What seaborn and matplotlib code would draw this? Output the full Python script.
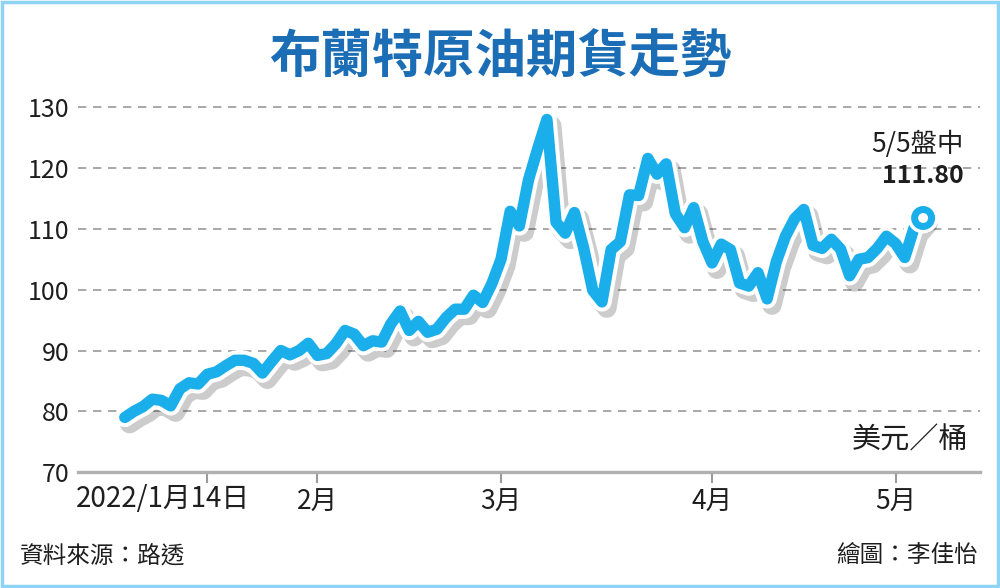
import numpy as np
import pandas as pd
import matplotlib
matplotlib.use("Agg")
import matplotlib.pyplot as plt
import matplotlib.patheffects as pe
from matplotlib.patches import Rectangle
import seaborn as sns

# trading days shown on the chart (Good Friday closed)
trade_days = pd.bdate_range("2022-01-03", "2022-05-05").drop(pd.Timestamp("2022-04-15"))

# Brent futures, USD / barrel
jan = [79.0, 80.0, 80.8, 82.0, 81.8, 80.9, 83.7, 84.7, 84.5, 86.1, 86.5,
       87.5, 88.4, 88.4, 87.9, 86.3, 88.2, 90.0, 89.3, 90.0, 91.2]
feb = [89.2, 89.5, 91.1, 93.3, 92.7, 90.8, 91.6, 91.4, 94.4, 96.5,
       93.3, 94.8, 93.0, 93.5, 95.4, 96.8, 96.8, 99.1, 97.9, 101.0]
mar = [105.0, 112.9, 110.5, 118.1, 123.2, 128.0, 111.1, 109.3, 112.7, 106.9,
       99.9, 98.0, 106.6, 107.9, 115.6, 115.5, 121.6, 119.0, 120.7, 112.5,
       110.2, 113.5, 107.9]
apr = [104.4, 107.5, 106.6, 101.1, 100.6, 102.8, 98.5, 104.6, 108.8, 111.7,
       113.2, 107.3, 106.8, 108.3, 106.7, 102.3, 105.0, 105.3, 106.8, 108.8]
may = [107.6, 105.3, 110.1, 111.8]
prices = jan + feb + mar + apr + may

tick_dates = ["2022-01-14", "2022-02-01", "2022-03-01", "2022-04-01", "2022-05-01"]
tick_labels = ["2022/1月14日", "2月", "3月", "4月", "5月"]
y_ticks = [70, 80, 90, 100, 110, 120, 130]

title = "布蘭特原油期貨走勢"
last_note = "5/5盤中"
last_value = "111.80"
unit = "美元／桶"
source = "資料來源：路透"
credit = "繪圖：李佳怡"

BLUE = "#1aaeea"
TITLE_BLUE = "#1b6db5"
GRAY = "#9a9a9a"
INK = "#1e1e1e"

df = pd.DataFrame({"day": np.arange(len(prices)), "price": prices})

sns.set_theme(style="white")
plt.rcParams["font.family"] = ["Noto Sans CJK TC", "DejaVu Sans"]

fig = plt.figure(figsize=(10, 5.88), dpi=100)
ax = fig.add_axes([0.078, 0.197, 0.902, 0.636])

sns.lineplot(data=df, x="day", y="price", ax=ax, color=BLUE, linewidth=8.2,
             solid_joinstyle="round", solid_capstyle="round", zorder=3)
ax.lines[0].set_path_effects([
    pe.SimpleLineShadow(offset=(3.5, -4.5), shadow_color="black", alpha=0.2, linewidth=14),
    pe.Stroke(linewidth=14, foreground="white"),
    pe.Normal(),
])

# end point marker
last = df.iloc[-1]
ax.scatter([last["day"]], [last["price"]], s=150, facecolor="white", edgecolor=BLUE,
           linewidths=5, zorder=4,
           path_effects=[pe.SimplePatchShadow(offset=(3.5, -4.5), alpha=0.2),
                         pe.Stroke(linewidth=10, foreground="white"), pe.Normal()])
ax.annotate(last_note, xy=(last["day"], last["price"]), xytext=(29, 53),
            textcoords="offset points", ha="right", va="center", fontsize=19,
            fontweight="medium", color=INK)
ax.annotate(last_value, xy=(last["day"], last["price"]), xytext=(29, 30),
            textcoords="offset points", ha="right", va="center", fontsize=18,
            fontweight="bold", color=INK)

ax.set_xlim(-5.1, 93.2)
ax.set_ylim(70, 131.5)
ax.set_xlabel("")
ax.set_ylabel("")

tick_pos = [trade_days.searchsorted(pd.Timestamp(d)) for d in tick_dates]
ax.set_xticks(tick_pos)
# first label sits left of its tick, drawn separately
ax.set_xticklabels([""] + tick_labels[1:], fontsize=19, fontweight="medium", color=INK)
ax.annotate(tick_labels[0], xy=(tick_pos[0], 0), xycoords=ax.get_xaxis_transform(),
            xytext=(-32, -19.5), textcoords="offset points", ha="center", va="center",
            fontsize=20, fontweight="medium", color=INK, annotation_clip=False)
ax.set_yticks(y_ticks)
ax.set_yticklabels([str(v) for v in y_ticks], fontsize=18, fontweight="medium", color=INK)

ax.tick_params(axis="x", length=8, width=1.5, color=GRAY, pad=4, bottom=True)
ax.tick_params(axis="y", length=0, pad=6)

for v in y_ticks[1:]:
    ax.axhline(v, color=GRAY, linewidth=1.2, linestyle=(0, (5, 4)), zorder=1)

sns.despine(ax=ax, left=True, top=True, right=True)
ax.spines["bottom"].set_color("#b0b0b0")
ax.spines["bottom"].set_linewidth(2.4)

fig.text(0.5, 1 - 57 / 588, title, ha="center", va="center", fontsize=37,
         fontweight="bold", color=TITLE_BLUE)
fig.text(0.968, 1 - 440 / 588, unit, ha="right", va="center", fontsize=21, color=INK)
fig.text(0.02, 1 - 556 / 588, source, ha="left", va="center", fontsize=17, color=INK)
fig.text(0.978, 1 - 556 / 588, credit, ha="right", va="center", fontsize=17, color=INK)

fig.add_artist(Rectangle((0.002, 0.003), 0.996, 0.994, transform=fig.transFigure,
                         fill=False, edgecolor="#8fd4f4", linewidth=2.5))

fig.savefig("out.png", dpi=100)
